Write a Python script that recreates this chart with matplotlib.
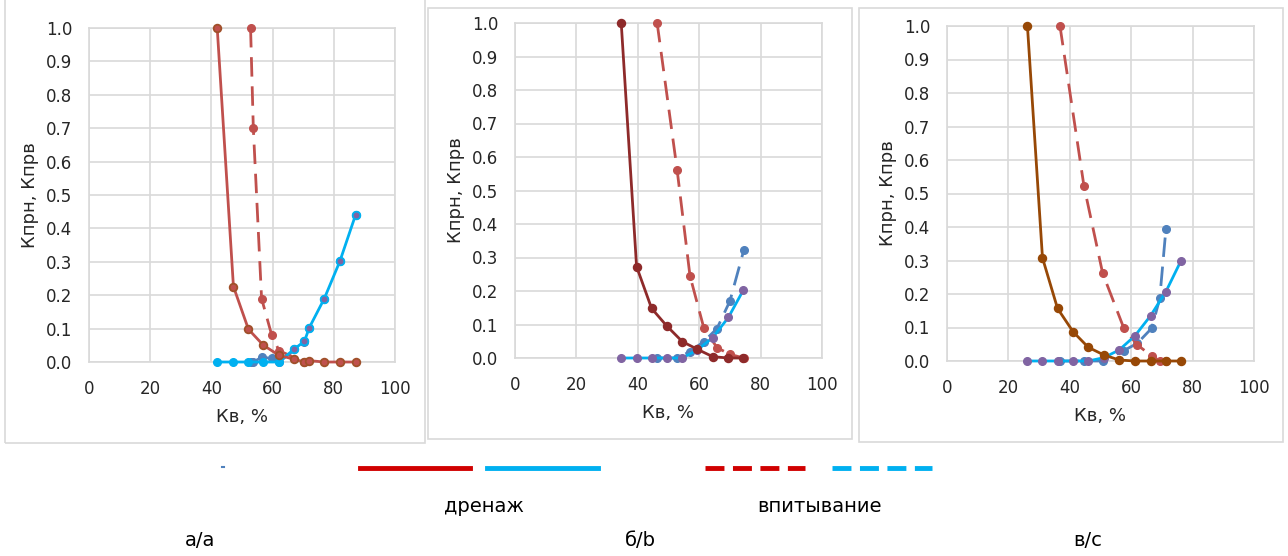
import matplotlib
matplotlib.use("Agg")
import matplotlib.pyplot as plt
from matplotlib.patches import Rectangle
from matplotlib.lines import Line2D

# panel a: drainage / imbibition relative permeabilities
a_dr_x = [41.9, 47.2, 52.1, 57.0, 62.1, 67.1, 70.4, 72.0, 76.9, 82.0, 87.1]
a_dr_oil = [1.0, 0.226, 0.098, 0.05, 0.02, 0.008, 0.0, 0.004, 0.0, 0.0, 0.0]
a_dr_wat = [0.0, 0.0, 0.0, 0.0, 0.0, 0.039, 0.062, 0.103, 0.19, 0.302, 0.44]
a_im_x = [52.8, 53.7, 56.4, 59.7, 62.1, 70.4]
a_im_oil = [1.0, 0.70, 0.19, 0.081, 0.034, 0.0]
a_im_wat = [0.0, 0.0, 0.014, 0.011, 0.0, 0.06]

# panel b
b_dr_x = [34.6, 39.6, 44.5, 49.4, 54.5, 59.4, 64.4, 69.5, 74.4]
b_dr_oil = [1.0, 0.273, 0.148, 0.096, 0.049, 0.026, 0.004, 0.0, 0.0]
b_dr_wat = [0.0, 0.0, 0.0, 0.0, 0.0, 0.024, 0.061, 0.121, 0.203]
b_im_x = [46.3, 52.8, 57.0, 61.5, 65.8, 70.0, 74.5]
b_im_oil = [1.0, 0.562, 0.245, 0.09, 0.031, 0.011, 0.0]
b_im_wat = [0.0, 0.0, 0.019, 0.049, 0.088, 0.17, 0.321]

# panel c
c_dr_x = [26.2, 31.1, 36.0, 41.1, 46.0, 51.1, 56.1, 61.2, 66.3, 71.3, 76.2]
c_dr_oil = [1.0, 0.308, 0.157, 0.087, 0.041, 0.018, 0.003, 0.0, 0.0, 0.0, 0.0]
c_dr_wat = [0.0, 0.0, 0.0, 0.0, 0.0, 0.01, 0.033, 0.075, 0.135, 0.207, 0.299]
c_im_x = [36.8, 44.6, 50.7, 57.6, 62.0, 66.7, 69.3, 71.3]
c_im_oil = [1.0, 0.523, 0.262, 0.098, 0.048, 0.015, 0.0, 0.0]
c_im_wat = [0.0, 0.0, 0.0, 0.031, 0.053, 0.098, 0.187, 0.393]

panel_names = ["а/а", "б/b", "в/с"]
legend_names = ["дренаж", "впитывание"]
x_ticks = [0, 20, 40, 60, 80, 100]
y_ticks = [0.0, 0.1, 0.2, 0.3, 0.4, 0.5, 0.6, 0.7, 0.8, 0.9, 1.0]

CYAN = "#00B0F0"
BLUE = "#4F81BD"
RED = "#C0504D"
PURPLE = "#8064A2"
GRID = "#D9D9D9"
TXT = "#262626"
DASH = (0, (7, 3.5))

fig = plt.figure(figsize=(12.88, 5.56), dpi=100)

# light frames around each chart
for x0, y0, x1, y1 in [(5, -2, 425, 443), (428, 8, 852, 439), (859, 8, 1283, 442)]:
    fig.patches.append(Rectangle((x0 / 1288, 1 - y1 / 556), (x1 - x0) / 1288, (y1 - y0) / 556,
                                 transform=fig.transFigure, fill=False,
                                 edgecolor=GRID, linewidth=1.2))

boxes = [(89, 28, 395, 362), (515, 23, 822, 358), (947, 26, 1254, 361)]
solid_cols = [RED, "#8E2A2A", "#974806"]
solid_edges = ["#A0502A", "#8E2A2A", "#974806"]

data = [
    (a_dr_x, a_dr_oil, a_dr_wat, a_im_x, a_im_oil, a_im_wat),
    (b_dr_x, b_dr_oil, b_dr_wat, b_im_x, b_im_oil, b_im_wat),
    (c_dr_x, c_dr_oil, c_dr_wat, c_im_x, c_im_oil, c_im_wat),
]

for i, (box, d) in enumerate(zip(boxes, data)):
    l, t, r, b = box
    ax = fig.add_axes([l / 1288, 1 - b / 556, (r - l) / 1288, (b - t) / 556])
    dx, doil, dwat, ix, ioil, iwat = d

    ms = 5.5
    # imbibition (dashed)
    ax.plot(ix, iwat, color=BLUE, lw=2, ls=DASH, marker="o", ms=ms,
            mfc=BLUE, mec=BLUE, zorder=3, clip_on=False)
    ax.plot(ix, ioil, color=RED, lw=2, ls=DASH, marker="o", ms=ms,
            mfc=RED, mec=RED, zorder=3, clip_on=False)
    # drainage (solid)
    if i == 0:
        ax.plot(dx, dwat, color=CYAN, lw=2, marker="o", ms=ms,
                mfc=CYAN, mec=CYAN, zorder=4, clip_on=False)
        px = [x for x, y in zip(dx, dwat) if y > 0]
        py = [y for y in dwat if y > 0]
        ax.plot(px, py, ls="none", marker="o", ms=ms, mfc=PURPLE, mec=CYAN,
                mew=1.3, zorder=5, clip_on=False)
    else:
        ax.plot(dx, dwat, color=CYAN, lw=2, marker="o", ms=ms,
                mfc=PURPLE, mec=PURPLE, zorder=4, clip_on=False)
    ax.plot(dx, doil, color=solid_cols[i], lw=2, marker="o", ms=ms,
            mfc=solid_cols[i], mec=solid_edges[i], mew=1.3, zorder=4, clip_on=False)

    ax.set_xlim(0, 100)
    ax.set_ylim(0, 1.0)
    ax.set_xticks(x_ticks)
    ax.set_yticks(y_ticks)
    ax.set_yticklabels([f"{v:.1f}" for v in y_ticks])
    ax.grid(True, color=GRID, lw=1.2)
    ax.set_axisbelow(True)
    for s in ax.spines.values():
        s.set_color(GRID)
        s.set_linewidth(1.2)
    ax.tick_params(length=0, labelsize=12, colors=TXT)
    ax.tick_params(axis="y", pad=12)
    ax.tick_params(axis="x", pad=13)
    ax.set_xlabel("Кв, %", fontsize=13, color=TXT, labelpad=7)
    ax.set_ylabel("Кпрн, Кпрв", fontsize=13, color=TXT, labelpad=5)

# legend strip below the charts
lx = fig.add_axes([0, 0, 1, 1], facecolor="none")
lx.set_xlim(0, 1288)
lx.set_ylim(556, 0)
lx.axis("off")
lx.add_line(Line2D([222, 224], [467, 467], color=BLUE, lw=1.5))
lx.add_line(Line2D([360, 470], [468, 468], color="#D00000", lw=3.5))
lx.add_line(Line2D([487, 598], [468, 468], color=CYAN, lw=3.5))
lx.add_line(Line2D([705, 805], [468, 468], color="#D00000", lw=3.5, ls=(0, (3.9, 1.75))))
lx.add_line(Line2D([832, 932], [468, 468], color=CYAN, lw=3.5, ls=(0, (3.9, 1.75))))

bfont = ["Liberation Sans Narrow", "DejaVu Sans"]
lx.text(484, 506, legend_names[0], ha="center", va="center", fontsize=14, family=bfont)
lx.text(820, 506, legend_names[1], ha="center", va="center", fontsize=14, family=bfont)
for xp, name in zip([200, 640, 1088], panel_names):
    lx.text(xp, 541, name, ha="center", va="center", fontsize=14, family=bfont)

fig.savefig("out.png", dpi=100)
